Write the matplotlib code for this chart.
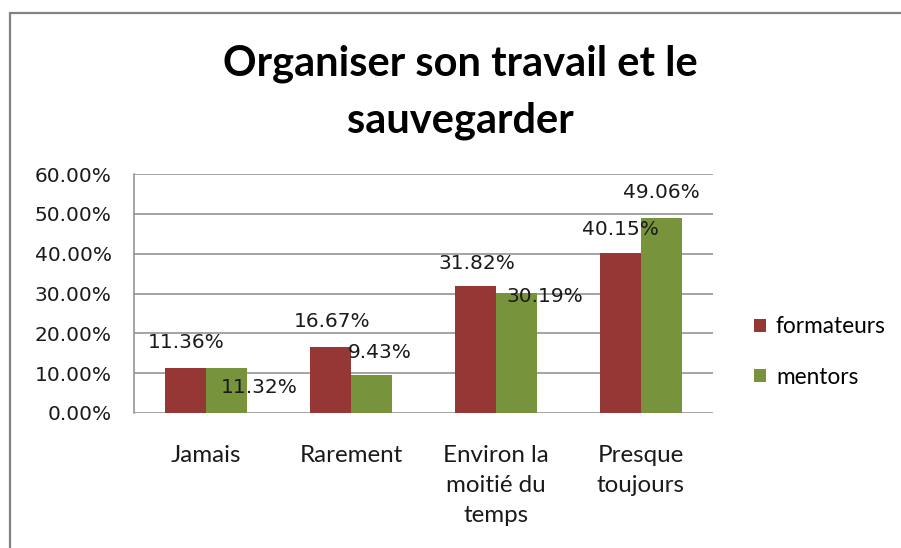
import numpy as np
import matplotlib
matplotlib.use("Agg")
from matplotlib import pyplot as plt
from matplotlib.patches import Rectangle

categories = ["Jamais", "Rarement", "Environ la\nmoitié du\ntemps", "Presque\ntoujours"]
formateurs = [11.36, 16.67, 31.82, 40.15]
mentors = [11.32, 9.43, 30.19, 49.06]
series_names = ["formateurs", "mentors"]

red = "#953735"
green = "#77933C"
grid_col = "#8C8C8C"

# label offsets in pixels, like the Excel labels that were dragged around
off_f = [(0, 25), (1, 25), (1, 23), (0, 24)]
off_m = [(32, -20), (8, 23), (28, -4), (0, 25)]

W, H = 901, 548
fig = plt.figure(figsize=(W / 100, H / 100), dpi=100)

# chart border (runs off the right and bottom of the picture)
fig.patches.append(Rectangle((9.5 / W, -0.1), 1.2, (H - 13.5) / H + 0.1,
                             transform=fig.transFigure, fill=False,
                             edgecolor="#828282", linewidth=1.6))

ax = fig.add_axes([134 / W, (H - 413) / H, (713 - 134) / W, (413 - 174) / H])
x = np.arange(len(categories))
bw = 0.283
b1 = ax.bar(x - bw / 2, formateurs, bw, color=red, label=series_names[0])
b2 = ax.bar(x + bw / 2, mentors, bw, color=green, label=series_names[1])

ax.set_ylim(0, 60)
ax.set_xlim(-0.5, 3.5)
ax.set_yticks(np.arange(0, 61, 10))
ax.set_yticklabels(["%.2f%%" % v for v in np.arange(0, 61, 10)],
                   fontsize=14.5, family="DejaVu Sans", color="#1a1a1a")
ax.tick_params(axis="y", length=0, pad=16)
ax.yaxis.grid(True, color=grid_col, linewidth=1.1)
ax.set_axisbelow(True)
for s in ["top", "right", "bottom"]:
    ax.spines[s].set_visible(False)
ax.spines["left"].set_color(grid_col)
ax.spines["left"].set_linewidth(1.1)

ax.set_xticks(x)
ax.set_xticklabels(categories, fontsize=17.4, family="Lato", linespacing=1.52,
                   color="#1a1a1a", va="top")
ax.tick_params(axis="x", length=0, pad=23)

for bars, vals, offs in [(b1, formateurs, off_f), (b2, mentors, off_m)]:
    for b, v, (dx, dy) in zip(bars, vals, offs):
        ax.annotate("%.2f%%" % v, (b.get_x() + b.get_width() / 2, v),
                    xytext=(dx, dy), textcoords="offset pixels",
                    ha="center", va="center", fontsize=14.5,
                    family="DejaVu Sans", color="#1a1a1a")

fig.text(460 / W, 1 - 92 / H, "Organiser son travail et le\nsauvegarder",
         ha="center", va="center", fontsize=30, fontweight="bold",
         family="Lato", linespacing=1.6)

leg = ax.legend(loc="center left", bbox_to_anchor=(734 / W, 1 - 352 / H),
                bbox_transform=fig.transFigure, frameon=False,
                prop={"family": "Lato", "size": 16.3}, handlelength=0.5,
                handleheight=0.5, handletextpad=0.45, labelspacing=1.3)

fig.savefig("out.png", dpi=100)
